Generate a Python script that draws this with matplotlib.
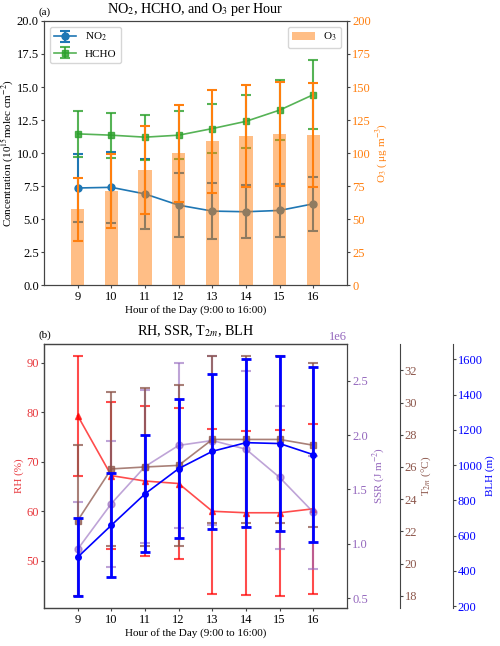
import matplotlib
matplotlib.use('Agg')
import matplotlib.pyplot as plt

plt.rcParams.update({'font.family': 'serif',
                     'font.serif': ['Liberation Serif', 'DejaVu Serif'],
                     'mathtext.fontset': 'stix',
                     'font.size': 8,
                     'xtick.labelsize': 9, 'ytick.labelsize': 9,
                     'xtick.major.size': 2.5, 'ytick.major.size': 2.5,
                     'xtick.major.pad': 2, 'ytick.major.pad': 1.2,
                     'axes.labelpad': 1.5})

hours = [9, 10, 11, 12, 13, 14, 15, 16]

# panel (a)
no2 = [7.35, 7.4, 6.9, 6.05, 5.6, 5.55, 5.65, 6.15]
no2_err = [2.55, 2.7, 2.67, 2.4, 2.1, 2.0, 2.0, 2.03]
hcho = [11.45, 11.35, 11.2, 11.35, 11.85, 12.4, 13.25, 14.42]
hcho_err = [1.75, 1.7, 1.7, 1.8, 1.85, 2.0, 2.25, 2.6]
o3 = [57.3, 71.4, 87.1, 99.7, 108.8, 112.9, 114.4, 113.9]
o3_err = [23.8, 28.0, 33.2, 37.0, 39.0, 38.8, 39.5, 39.4]

# panel (b)
rh = [79.3, 67.2, 66.1, 65.6, 60.0, 59.7, 59.7, 60.5]
rh_err = [12.1, 14.9, 15.1, 15.3, 16.6, 16.6, 16.8, 17.2]
ssr = [0.95e6, 1.37e6, 1.71e6, 1.905e6, 1.95e6, 1.87e6, 1.61e6, 1.29e6]
ssr_err = [0.43e6, 0.58e6, 0.70e6, 0.76e6, 0.78e6, 0.72e6, 0.66e6, 0.52e6]
t2m = [22.67, 25.88, 26.0, 26.1, 27.71, 27.71, 27.71, 27.35]
t2m_err = [4.68, 4.8, 4.9, 4.98, 5.2, 5.2, 5.2, 5.1]
blh = [478, 659, 837, 980, 1078, 1127, 1122, 1059]
blh_err = [220, 295, 332, 393, 440, 477, 498, 497]

fig = plt.figure(figsize=(5, 6.46), dpi=100)

# ---- (a)
ax1 = fig.add_axes([0.088, 0.5588, 0.606, 0.4087])
ax1.errorbar(hours, no2, yerr=no2_err, fmt='-o', color='#1f77b4', ms=5,
             lw=1.2, elinewidth=1.5, capsize=3.5, capthick=1.5, label='NO$_2$')
ax1.errorbar(hours, hcho, yerr=hcho_err, fmt='-s', color='#2ca02c', alpha=0.8,
             ms=5, lw=1.2, elinewidth=1.5, capsize=3.5, capthick=1.5,
             label='HCHO')
ax1.set_ylim(0, 20)
ax1.set_xlim(8, 17)
ax1.set_xticks(hours)
ax1.set_xlabel('Hour of the Day (9:00 to 16:00)')
ax1.set_ylabel('Concentration (10$^{15}$molec cm$^{-2}$)', labelpad=0.5)
ax1.set_title('NO$_2$, HCHO, and O$_3$ per Hour', fontsize=10.2)
ax1.text(-0.017, 1.015, '(a)', transform=ax1.transAxes, ha='left',
         va='bottom', fontsize=8)
ax1.legend(loc='upper left')

ax2 = ax1.twinx()
ax2.bar(hours, o3, width=0.4, color='#ff7f0e', alpha=0.5, label='O$_3$')
ax2.errorbar(hours, o3, yerr=o3_err, fmt='none', ecolor='#ff7f0e',
             elinewidth=1.5, capsize=3.5, capthick=1.5)
ax2.set_ylim(0, 200)
ax2.set_ylabel('O$_3$ ( μg m$^{-3}$)', color='#ff7f0e')
ax2.tick_params(axis='y', colors='#ff7f0e')
ax2.legend(loc='upper right')

# ---- (b)
c_rh = '#e8383d'
c_ssr = '#9467bd'
c_t = '#8c564b'
c_b = 'blue'

bx = fig.add_axes([0.088, 0.0588, 0.606, 0.4092])
bx.errorbar(hours, rh, yerr=rh_err, fmt='-^', color='red', alpha=0.7, ms=4,
            lw=1.2, elinewidth=1.5, capsize=3.5, capthick=1.5)
bx.set_xlim(8, 17)
bx.set_xticks(hours)
bx.set_xlabel('Hour of the Day (9:00 to 16:00)')
bx.set_ylabel('RH (%)', color=c_rh)
bx.tick_params(axis='y', colors=c_rh)
bx.set_title('RH, SSR, T$_{2m}$, BLH', fontsize=10.2)
bx.text(-0.017, 1.015, '(b)', transform=bx.transAxes, ha='left',
        va='bottom', fontsize=8)

bx2 = bx.twinx()
bx2.errorbar(hours, ssr, yerr=ssr_err, fmt='-o', color=c_ssr, alpha=0.6, ms=5,
             lw=1.2, elinewidth=1.5, capsize=3.5, capthick=1.5)
bx2.set_ylabel('SSR (J m$^{-2}$)', color=c_ssr)
bx2.tick_params(axis='y', colors=c_ssr)
bx2.yaxis.get_offset_text().set_color(c_ssr)

bx3 = bx.twinx()
bx3.spines['right'].set_position(('axes', 1.174))
bx3.errorbar(hours, t2m, yerr=t2m_err, fmt='-s', color=c_t, alpha=0.75, ms=5,
             lw=1.2, elinewidth=1.5, capsize=3.5, capthick=1.5)
bx3.set_ylabel('T$_{2m}$ (°C)', color=c_t)
bx3.tick_params(axis='y', colors=c_t)

bx4 = bx.twinx()
bx4.spines['right'].set_position(('axes', 1.349))
bx4.errorbar(hours, blh, yerr=blh_err, fmt='-o', color=c_b, ms=4,
             lw=1.2, elinewidth=2, capsize=3.5, capthick=2)
bx4.set_ylabel('BLH (m)', color=c_b)
bx4.tick_params(axis='y', colors=c_b)

for a in (ax1, ax2, bx, bx2, bx3, bx4):
    for s in a.spines.values():
        s.set_color('#444444')
    a.tick_params(axis='both', which='both', color='#444444')
ax1.tick_params(axis='both', colors='black')
ax1.tick_params(axis='both', color='#444444')

fig.savefig('out.png', dpi=100)
